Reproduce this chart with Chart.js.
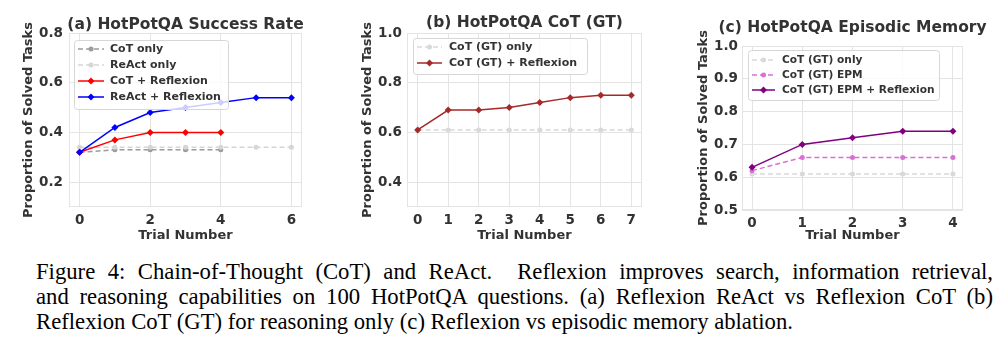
<!DOCTYPE html>
<html>
<head>
<meta charset="utf-8">
<script src="https://cdn.jsdelivr.net/npm/chart.js@4.4.1/dist/chart.umd.min.js"></script>
<style>
  body { margin: 0; background: #fff; }
  #fig { position: relative; width: 1003px; height: 349px; overflow: hidden; background: #fff; }
  canvas { position: absolute; top: 0; }
  #caption {
    position: absolute; left: 36px; top: 259px; width: 957px;
    font-family: "Liberation Serif", "Times New Roman", serif;
    font-size: 22.7px; line-height: 25px; color: #000;
  }
  #caption .j { text-align: justify; text-align-last: justify; }
  #caption div { white-space: nowrap; }
</style>
</head>
<body>
<div id="fig">
  <canvas id="chartA" width="330" height="250" style="left:0px"></canvas>
  <canvas id="chartB" width="330" height="250" style="left:330px"></canvas>
  <canvas id="chartC" width="343" height="250" style="left:660px"></canvas>
  <div id="caption">
    <div class="j">Figure 4: Chain-of-Thought (CoT) and ReAct.&nbsp; Reflexion improves search, information retrieval,</div>
    <div class="j">and reasoning capabilities on 100 HotPotQA questions. (a) Reflexion ReAct vs Reflexion CoT (b)</div>
    <div>Reflexion CoT (GT) for reasoning only (c) Reflexion vs episodic memory ablation.</div>
  </div>
</div>
<script>
// (a) HotPotQA Success Rate
const trialsA = [0, 1, 2, 3, 4, 5, 6]
const cotOnlyA = [0.32, 0.33, 0.33, 0.33, 0.33]
const reactOnlyA = [0.34, 0.34, 0.34, 0.34, 0.34, 0.34, 0.34]
const cotReflexionA = [0.32, 0.37, 0.40, 0.40, 0.40]
const reactReflexionA = [0.32, 0.42, 0.48, 0.50, 0.52, 0.54, 0.54]
const xTicksA = [0, 2, 4, 6]
const yTicksA = [0.2, 0.4, 0.6, 0.8]

// (b) HotPotQA CoT (GT)
const trialsB = [0, 1, 2, 3, 4, 5, 6, 7]
const cotGtOnlyB = [0.61, 0.61, 0.61, 0.61, 0.61, 0.61, 0.61, 0.61]
const cotGtReflexionB = [0.61, 0.69, 0.69, 0.70, 0.72, 0.74, 0.75, 0.75]
const xTicksB = [0, 1, 2, 3, 4, 5, 6, 7]
const yTicksB = [0.4, 0.6, 0.8, 1.0]

// (c) HotPotQA Episodic Memory
const trialsC = [0, 1, 2, 3, 4]
const cotGtOnlyC = [0.61, 0.61, 0.61, 0.61, 0.61]
const cotGtEpmC = [0.62, 0.66, 0.66, 0.66, 0.66]
const cotGtEpmReflexionC = [0.63, 0.70, 0.72, 0.74, 0.74]
const xTicksC = [0, 1, 2, 3, 4]
const yTicksC = [0.5, 0.6, 0.7, 0.8, 0.9, 1.0]

const FONT = 'DejaVu Sans'
const TEXT = '#333333'
const GRID = '#e4e4e4'

function points(xs, ys) {
    return ys.map((y, i) => ({x: xs[i], y: y}))
}

function series(label, xs, ys, color, dashed, marker) {
    return {
        label: label,
        data: points(xs, ys),
        borderColor: color,
        backgroundColor: color,
        borderWidth: 1.5,
        borderDash: dashed ? [5, 3] : [],
        pointStyle: marker,
        pointRadius: marker === 'rectRot' ? 3.5 : 2.5,
        pointBorderWidth: 0,
        tension: 0
    }
}

// light grey frame round the plot area
const spines = {
    id: 'spines',
    beforeDatasetsDraw(chart) {
        const a = chart.chartArea
        const ctx = chart.ctx
        ctx.save()
        ctx.strokeStyle = GRID
        ctx.lineWidth = 1
        ctx.strokeRect(a.left + 0.5, a.top + 0.5, a.right - a.left - 1, a.bottom - a.top - 1)
        ctx.restore()
    }
}

// title centred over the plot area, allowed to run wider than it
const panelTitle = {
    id: 'panelTitle',
    afterDraw(chart, args, o) {
        const a = chart.chartArea
        const ctx = chart.ctx
        ctx.save()
        ctx.fillStyle = TEXT
        ctx.font = 'bold 15.5px "' + FONT + '"'
        ctx.textAlign = 'center'
        ctx.textBaseline = 'middle'
        ctx.fillText(o.text, (a.left + a.right) / 2, o.y)
        ctx.restore()
    }
}

// matplotlib-like legend box inside the plot
const frameLegend = {
    id: 'frameLegend',
    afterDatasetsDraw(chart, args, o) {
        const ctx = chart.ctx
        ctx.save()
        ctx.beginPath()
        ctx.roundRect(o.x + 0.5, o.y + 0.5, o.w, o.h, 3)
        ctx.fillStyle = 'rgba(255,255,255,0.8)'
        ctx.fill()
        ctx.strokeStyle = '#d6d6d6'
        ctx.lineWidth = 1
        ctx.stroke()
        chart.data.datasets.forEach((ds, i) => {
            const y = o.first + i * o.row
            ctx.strokeStyle = ds.borderColor
            ctx.fillStyle = ds.borderColor
            ctx.lineWidth = ds.borderWidth
            ctx.setLineDash(ds.borderDash)
            ctx.beginPath()
            ctx.moveTo(o.lineX, y)
            ctx.lineTo(o.lineX + o.lineW, y)
            ctx.stroke()
            ctx.setLineDash([])
            Chart.helpers.drawPoint(ctx, {pointStyle: ds.pointStyle, radius: ds.pointRadius, rotation: 0, borderWidth: 0}, o.lineX + o.lineW / 2, y)
            ctx.fillStyle = TEXT
            ctx.font = 'bold ' + o.font + 'px "' + FONT + '"'
            ctx.textBaseline = 'middle'
            ctx.textAlign = 'left'
            ctx.fillText(ds.label, o.textX, y + 0.5)
        })
        ctx.restore()
    }
}

function panel(id, title, datasets, xr, xTicks, yr, yTicks, L) {
    datasets.forEach((d, i) => { d.order = datasets.length - i })
    return new Chart(document.getElementById(id), {
        type: 'line',
        data: {datasets: datasets},
        plugins: [spines, frameLegend, panelTitle],
        options: {
            responsive: false,
            animation: false,
            layout: {padding: {left: 0, right: L.padRight, top: L.padTop, bottom: 0}},
            plugins: {
                legend: {display: false},
                tooltip: {enabled: false},
                title: {display: false},
                panelTitle: {text: title, y: L.titleY},
                frameLegend: L.legend
            },
            scales: {
                x: {
                    type: 'linear',
                    min: xr[0],
                    max: xr[1],
                    afterBuildTicks: s => { s.ticks = xTicks.map(v => ({value: v})) },
                    afterFit: s => { s.height = L.xHeight },
                    grid: {color: GRID, drawTicks: false},
                    border: {display: false},
                    ticks: {padding: L.xTickPad, color: TEXT, font: {family: FONT, weight: 'bold', size: 13.5}},
                    title: {
                        display: true,
                        text: 'Trial Number',
                        color: TEXT,
                        font: {family: FONT, weight: 'bold', size: 13, lineHeight: 1.2},
                        padding: {top: 0, bottom: L.xTitlePad}
                    }
                },
                y: {
                    type: 'linear',
                    min: yr[0],
                    max: yr[1],
                    afterBuildTicks: s => { s.ticks = yTicks.map(v => ({value: v})) },
                    afterFit: s => { s.width = L.yWidth },
                    grid: {color: GRID, drawTicks: false},
                    border: {display: false},
                    ticks: {
                        padding: L.yTickPad,
                        color: TEXT,
                        font: {family: FONT, weight: 'bold', size: 13.5},
                        callback: v => v.toFixed(1)
                    },
                    title: {
                        display: true,
                        text: 'Proportion of Solved Tasks',
                        color: TEXT,
                        font: {family: FONT, weight: 'bold', size: 13, lineHeight: 1.2},
                        padding: {top: L.yTitlePad, bottom: 0}
                    }
                }
            }
        }
    })
}

panel('chartA', '(a) HotPotQA Success Rate', [
    series('CoT only', trialsA, cotOnlyA, '#9c9c9c', true, 'circle'),
    series('ReAct only', trialsA, reactOnlyA, '#d6d6d6', true, 'circle'),
    series('CoT + Reflexion', trialsA, cotReflexionA, '#ff0000', false, 'rectRot'),
    series('ReAct + Reflexion', trialsA, reactReflexionA, '#0000ff', false, 'rectRot')
], [-0.3, 6.3], xTicksA, [0.1, 0.8], yTicksA, {
    padRight: 28, padTop: 33, yWidth: 69, yTickPad: 6, yTitlePad: 21.2,
    xHeight: 43, xTickPad: 5, xTitlePad: 6.2, titleY: 25,
    legend: {x: 74, y: 40, w: 154, h: 69, first: 49, row: 16, lineX: 78, lineW: 26, textX: 110, font: 11}
})

panel('chartB', '(b) HotPotQA CoT (GT)', [
    series('CoT (GT) only', trialsB, cotGtOnlyB, '#d9d9d9', true, 'circle'),
    series('CoT (GT) + Reflexion', trialsB, cotGtReflexionB, '#a52a2a', false, 'rectRot')
], [-0.35, 7.35], xTicksB, [0.3, 1.0], yTicksB, {
    padRight: 18, padTop: 33, yWidth: 77, yTickPad: 5, yTitlePad: 30.2,
    xHeight: 43, xTickPad: 5, xTitlePad: 6.2, titleY: 23,
    legend: {x: 83, y: 38, w: 174, h: 36, first: 47, row: 16, lineX: 87, lineW: 25, textX: 119, font: 11}
})

panel('chartC', '(c) HotPotQA Episodic Memory', [
    series('CoT (GT) only', trialsC, cotGtOnlyC, '#d9d9d9', true, 'circle'),
    series('CoT (GT) EPM', trialsC, cotGtEpmC, '#da70d6', true, 'circle'),
    series('CoT (GT) EPM + Reflexion', trialsC, cotGtEpmReflexionC, '#800080', false, 'rectRot')
], [-0.2, 4.2], xTicksC, [0.5, 1.0], yTicksC, {
    padRight: 40, padTop: 46, yWidth: 82, yTickPad: 4, yTitlePad: 36.2,
    xHeight: 40, xTickPad: 5, xTitlePad: 6.2, titleY: 28,
    legend: {x: 88, y: 50, w: 191, h: 50, first: 60, row: 15, lineX: 92, lineW: 23, textX: 122, font: 10.6}
})
</script>
</body>
</html>
